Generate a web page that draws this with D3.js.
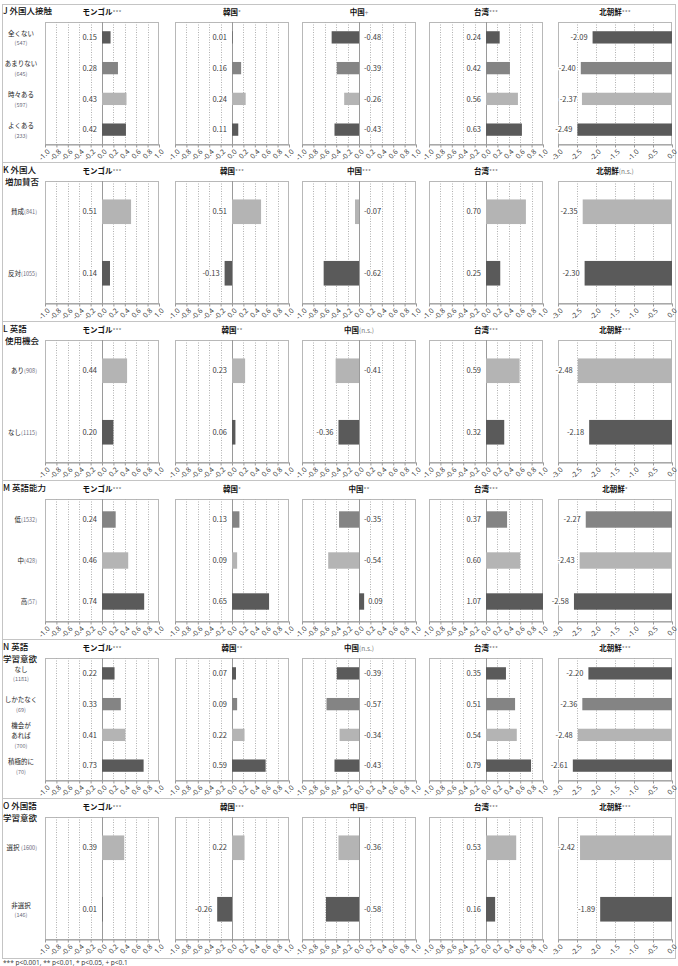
<!DOCTYPE html>
<html><head><meta charset="utf-8">
<script src="https://cdn.jsdelivr.net/npm/d3@7"></script>
<style>
body{margin:0;background:#fff;}
svg{display:block;font-family:"Noto Sans CJK JP","Noto Sans",sans-serif;}
</style></head><body>
<svg id="chart" width="678" height="966"></svg>
<script>
var countries = ["モンゴル", "韓国", "中国", "台湾", "北朝鮮"];

// J
var jTitle = ["J 外国人接触"];
var jCats = ["全くない", "あまりない", "時々ある", "よくある"];
var jN = [547, 645, 597, 233];
var jSig = ["***", "*", "+", "***", "***"];
var jShade = ["dark", "mid", "light", "dark"];
var jValues = [[0.15, 0.28, 0.43, 0.42], [0.01, 0.16, 0.24, 0.11], [-0.48, -0.39, -0.26, -0.43], [0.24, 0.42, 0.56, 0.63], [-2.09, -2.40, -2.37, -2.49]];
// K
var kTitle = ["K 外国人", " 増加賛否"];
var kCats = ["賛成", "反対"];
var kN = [841, 1055];
var kSig = ["***", "***", "***", "***", "(n.s.)"];
var kShade = ["light", "dark"];
var kValues = [[0.51, 0.14], [0.51, -0.13], [-0.07, -0.62], [0.70, 0.25], [-2.35, -2.30]];
// L
var lTitle = ["L 英語", " 使用機会"];
var lCats = ["あり", "なし"];
var lN = [908, 1115];
var lSig = ["***", "**", "(n.s.)", "***", "***"];
var lShade = ["light", "dark"];
var lValues = [[0.44, 0.20], [0.23, 0.06], [-0.41, -0.36], [0.59, 0.32], [-2.48, -2.18]];
// M
var mTitle = ["M 英語能力"];
var mCats = ["低", "中", "高"];
var mN = [1532, 428, 57];
var mSig = ["***", "*", "**", "***", "*"];
var mShade = ["mid", "light", "dark"];
var mValues = [[0.24, 0.46, 0.74], [0.13, 0.09, 0.65], [-0.35, -0.54, 0.09], [0.37, 0.60, 1.07], [-2.27, -2.43, -2.58]];
// N
var nTitle = ["N 英語", "学習意欲"];
var nCats = ["なし", "しかたなく", "機会が\nあれば", "積極的に"];
var nN = [1181, 69, 700, 70];
var nSig = ["***", "**", "(n.s.)", "***", "***"];
var nShade = ["dark", "mid", "light", "dark"];
var nValues = [[0.22, 0.33, 0.41, 0.73], [0.07, 0.09, 0.22, 0.59], [-0.39, -0.57, -0.34, -0.43], [0.35, 0.51, 0.54, 0.79], [-2.20, -2.36, -2.48, -2.61]];
// O
var oTitle = ["O 外国語", "学習意欲"];
var oCats = ["選択 ", "非選択"];
var oN = [1600, 146];
var oSig = ["***", "***", "+", "***", "***"];
var oShade = ["light", "dark"];
var oValues = [[0.39, 0.01], [0.22, -0.26], [-0.36, -0.58], [0.53, 0.16], [-2.42, -1.89]];

var stdTicks = [-1.0, -0.8, -0.6, -0.4, -0.2, 0.0, 0.2, 0.4, 0.6, 0.8, 1.0];
var nkTicks = [-3.0, -2.5, -2.0, -1.5, -1.0, -0.5, 0.0];

// labels drawn beyond the bar end instead of across zero
var labelAtEnd = {"K-1-1": 1, "L-2-1": 1, "M-2-2": 1, "O-1-1": 1};

var footnote = "*** p<0.001, ** p<0.01, * p<0.05, + p<0.1";

var sections = [
  {id: "J", title: jTitle, cats: jCats, n: jN, sig: jSig, shade: jShade, values: jValues, inline: false},
  {id: "K", title: kTitle, cats: kCats, n: kN, sig: kSig, shade: kShade, values: kValues, inline: true},
  {id: "L", title: lTitle, cats: lCats, n: lN, sig: lSig, shade: lShade, values: lValues, inline: true},
  {id: "M", title: mTitle, cats: mCats, n: mN, sig: mSig, shade: mShade, values: mValues, inline: true},
  {id: "N", title: nTitle, cats: nCats, n: nN, sig: nSig, shade: nShade, values: nValues, inline: false},
  {id: "O", title: oTitle, cats: oCats, n: oN, sig: oSig, shade: oShade, values: oValues, inline: "mixed"}
];

var shadeColor = {dark: "#5a5a5a", mid: "#848484", light: "#b4b4b4"};

var panelLeft = [45, 175, 302, 429, 558];
var panelW = 114;
var top0 = 22, period = 159, plotH = 123;

var svg = d3.select("#chart");

// outer frame + dividers
svg.append("rect").attr("x", 2.5).attr("y", 4.5).attr("width", 673).attr("height", 954)
  .attr("fill", "none").attr("stroke", "#c4c4c4");
for (var i = 1; i < sections.length; i++) {
  svg.append("line").attr("x1", 2.5).attr("x2", 675.5)
    .attr("y1", top0 + i * period - 18.5).attr("y2", top0 + i * period - 18.5)
    .attr("stroke", "#c4c4c4");
}

var fmt1 = d => (Math.abs(d) < 1e-9 ? 0 : d).toFixed(1);
var fmt2 = d => d.toFixed(2);

sections.forEach(function(sec, si) {
  var top = top0 + si * period;
  var g = svg.append("g").attr("class", "section");

  // section title
  sec.title.forEach(function(t, k) {
    g.append("text").attr("x", 3).attr("y", top - 8 + k * 12)
      .attr("font-size", "8.5px").attr("fill", "#111").attr("font-weight", 500)
      .attr("xml:space", "preserve").text(t);
  });

  var y = d3.scaleBand().domain(d3.range(sec.cats.length))
    .range([top, top + plotH]).paddingInner(0.6).paddingOuter(0.3);

  // row labels
  sec.cats.forEach(function(c, r) {
    var cy = y(r) + y.bandwidth() / 2;
    var lines = c.split("\n");
    var stacked = sec.inline === false || (sec.inline === "mixed" && r > 0);
    if (!stacked) {
      var t = g.append("text").attr("x", 37).attr("y", cy).attr("dy", "0.35em")
        .attr("text-anchor", "end").attr("font-size", "6.5px").attr("fill", "#222")
        .attr("xml:space", "preserve");
      t.append("tspan").text(c);
      t.append("tspan").attr("font-size", "5.5px").attr("fill", "#6b6b7a").text("(" + sec.n[r] + ")");
    } else {
      var all = lines.concat(["(" + sec.n[r] + ")"]);
      all.forEach(function(l, k) {
        g.append("text").attr("x", 21)
          .attr("y", cy + (k - (all.length - 1) / 2) * 10 + 1).attr("dy", "0.35em")
          .attr("text-anchor", "middle")
          .attr("font-size", k === all.length - 1 ? "5.5px" : "6.5px")
          .attr("fill", k === all.length - 1 ? "#6b6b7a" : "#222")
          .text(l);
      });
    }
  });

  countries.forEach(function(cn, ci) {
    var isNK = ci === 4;
    var x0 = panelLeft[ci];
    var ticks = isNK ? nkTicks : stdTicks;
    var x = d3.scaleLinear().domain(isNK ? [-3, 0] : [-1, 1])
      .range([x0, x0 + panelW]).clamp(true);
    var p = g.append("g").attr("class", "panel");

    // title
    var tt = p.append("text").attr("x", x0 + panelW / 2).attr("y", top - 7)
      .attr("text-anchor", "middle").attr("font-size", "7.5px");
    tt.append("tspan").attr("font-weight", "bold").attr("fill", "#111").text(cn);
    tt.append("tspan").attr("font-size", "6.5px").attr("fill", "#777").text(sec.sig[ci]);

    // frame
    p.append("rect").attr("x", x0 + 0.5).attr("y", top + 0.5)
      .attr("width", panelW - 1).attr("height", plotH - 1)
      .attr("fill", "#fff").attr("stroke", "#b8b8b8");

    // dotted grid
    p.selectAll(".grid").data(ticks.slice(1, -1)).enter().append("line")
      .attr("x1", d => Math.round(x(d)) + 0.5).attr("x2", d => Math.round(x(d)) + 0.5)
      .attr("y1", top).attr("y2", top + plotH)
      .attr("stroke", d => (!isNK && d === 0) ? "#9a9a9a" : "#b0b0b0")
      .attr("stroke-dasharray", d => (!isNK && d === 0) ? null : "1,1.5");

    // bars
    var vals = sec.values[ci];
    p.selectAll(".bar").data(vals).enter().append("rect")
      .attr("x", d => x(Math.min(0, d)))
      .attr("y", (d, r) => y(r))
      .attr("width", d => Math.abs(x(d) - x(0)))
      .attr("height", y.bandwidth())
      .attr("fill", (d, r) => shadeColor[sec.shade[r]]);

    // value labels
    p.selectAll(".val").data(vals).enter().append("text")
      .each(function(d, r) {
        var atEnd = isNK || labelAtEnd[sec.id + "-" + ci + "-" + r];
        var lx, anchor;
        if (atEnd) {
          lx = d < 0 ? x(d) - 5 : x(d) + 4;
          anchor = d < 0 ? "end" : "start";
        } else {
          lx = d < 0 ? x(0) + 5 : x(0) - 5;
          anchor = d < 0 ? "start" : "end";
        }
        d3.select(this).attr("x", lx).attr("text-anchor", anchor);
      })
      .attr("y", (d, r) => y(r) + y.bandwidth() / 2)
      .attr("dy", "0.35em")
      .attr("font-size", "7.5px").attr("fill", "#404040")
      .attr("stroke", "#fff").attr("stroke-width", 2.5).attr("paint-order", "stroke")
      .text(fmt2);

    // axis
    var ax = p.append("g").attr("transform", `translate(0,${top + plotH - 0.5})`)
      .call(d3.axisBottom(x).tickValues(ticks).tickSize(3).tickSizeOuter(0).tickFormat(fmt1));
    ax.select(".domain").attr("stroke", "#9a9a9a");
    ax.selectAll(".tick line").attr("stroke", "#9a9a9a");
    ax.selectAll(".tick text")
      .attr("font-family", "'Noto Sans','DejaVu Sans',sans-serif")
      .attr("font-size", "7px").attr("fill", "#444")
      .attr("text-anchor", "end").attr("y", 0).attr("dy", "0.35em")
      .attr("transform", "translate(3,6) rotate(-45)");
  });
});

svg.append("text").attr("x", 3).attr("y", 965).attr("font-size", "6.5px")
  .attr("fill", "#444").attr("font-family", "'Noto Sans',sans-serif").text(footnote);
</script>
</body></html>
